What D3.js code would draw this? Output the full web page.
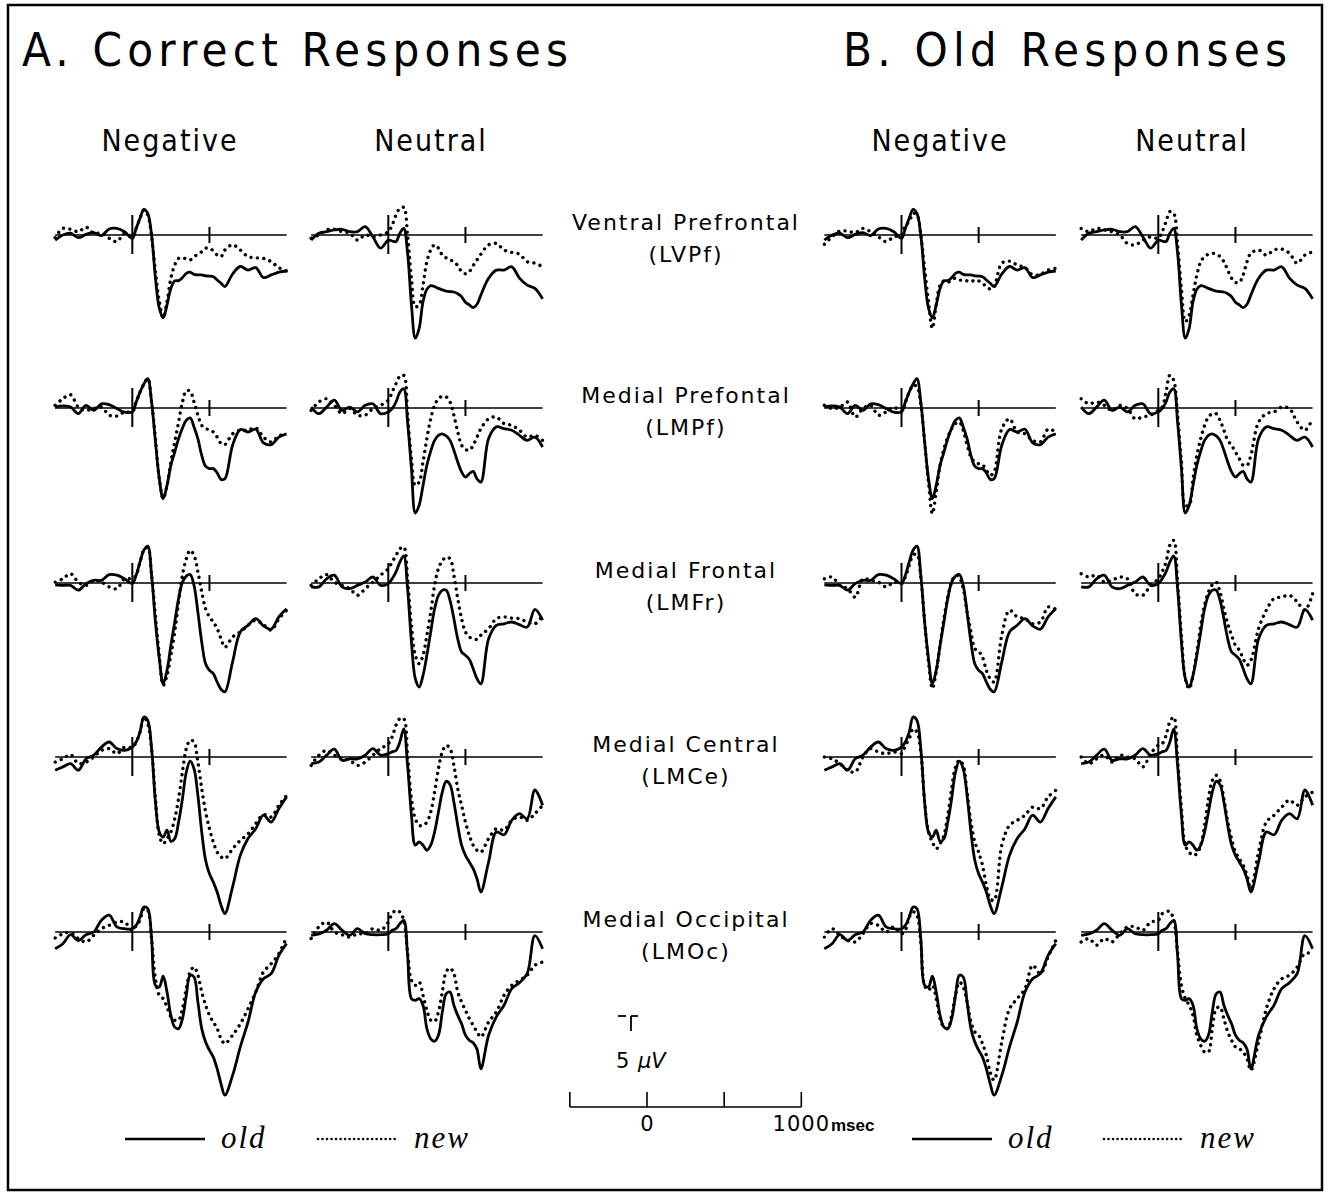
<!DOCTYPE html>
<html>
<head>
<meta charset="utf-8">
<script src="https://cdn.jsdelivr.net/npm/d3@7"></script>
<style>
  body { margin: 0; background: #fff; }
  svg { display: block; }
</style>
</head>
<body>
<svg id="chart" width="1331" height="1194"></svg>
<script>
// sample times (ms) shared by all waveforms
var times = [-500,-450,-400,-350,-300,-250,-200,-150,-100,-50,0,
  25,50,75,100,125,150,175,200,225,250,275,300,325,350,375,400,425,450,475,500,525,550,575,600,
  650,700,750,800,850,900,950,1000];

var sites = ["Ventral Prefrontal", "Medial Prefontal", "Medial Frontal", "Medial Central", "Medial Occipital"];
var siteCodes = ["(LVPf)", "(LMPf)", "(LMFr)", "(LMCe)", "(LMOc)"];
var panelTitles = ["A. Correct Responses", "B. Old Responses"];
var conditionLabels = ["Negative", "Neutral", "Negative", "Neutral"];
var scaleTicks = [-500, 0, 500, 1000];
var scaleLabels = ["0", "1000"];

// old items (hits) - same in A and B, one array per site, microvolts
var hitsNeg = [
  [-1.7,0,0.6,-0.9,0.2,0.8,-0.2,2,2.2,1.1,-1.1, 2.2,5.6,8.5,7.2,0,-14.4,-24.4,-27.6,-23.3,-17.8,-15.3,-15.2,-14.2,-12.8,-12.4,-13.1,-13.3,-13.3,-13.6,-13.7,-13.9,-15,-16.1,-17.2, -13,-10.5,-11.7,-10.9,-14.2,-13.3,-12.4,-12],
  [0.3,0.7,0.3,-1.9,0.9,-0.8,1.4,1.1,-0.2,-1.4,-1.3, 2,5.3,8,9.8,2,-11.3,-23.6,-30.2,-25.8,-19.1,-14.7,-10.2,-6.7,-4.1,-3.3,-6.3,-10.2,-15.8,-19.4,-20.2,-20.2,-21.6,-23.8,-23.6, -12.4,-7.2,-8,-7.1,-11.6,-12.2,-9.7,-8.6],
  [-0.6,-0.8,-0.8,-2.4,-0.2,0.9,0.9,2.8,2.6,1.4,-0.2, 2.6,7,10.9,12.3,2.6,-13,-25.2,-33.6,-29.1,-20.8,-13,-5.2,0.3,2.3,2.8,-0.8,-9.7,-19.7,-26.9,-29.1,-30.2,-33,-35.4,-36.3, -26.3,-16.3,-14.1,-11.9,-14.3,-15.4,-11.3,-8.6],
  [-4.4,-3.3,-2.2,-4.4,-0.6,0.6,3.3,5,2.8,2.2,3.3, 5,8.3,13.3,12.2,2.8,-15,-25,-26.7,-24.4,-28.1,-27.2,-21.7,-13.9,-5,-1.4,-3.9,-12.8,-25,-34.4,-38.9,-41.7,-45,-49.4,-52.2, -43.3,-32.8,-27.2,-23.9,-19.4,-21.7,-17.2,-13.3],
  [-5.6,-3.9,-0.9,-2.8,-0.9,0,3.9,5.6,1.7,1.1,1.1, 2.2,5,8.3,7.8,-2.2,-17.8,-18.3,-14.7,-20,-27.8,-31.7,-32.2,-28.9,-21.1,-14.4,-15,-23.3,-32.2,-36.7,-39.4,-41.7,-45.6,-50.6,-54.4, -47.8,-38.3,-30,-20,-15.6,-13.9,-7.8,-3.9]
];
var hitsNeu = [
  [-1.7,0.6,1.1,1.7,1.9,1.1,1.1,2.8,-0.6,-4.4,-1.7, -2,-2.2,0.6,2.2,-6,-23.3,-34.4,-31.1,-22.2,-18.1,-16.9,-17.2,-17.8,-18.3,-18.7,-18.9,-19,-19.6,-20.6,-22.4,-23.3,-24.2,-23.1,-20, -14.4,-11.7,-11.7,-10.6,-14.4,-16.7,-17.8,-21.3],
  [0.3,-1.9,0.3,2.6,-0.8,0.3,-1.3,0.9,1.4,-1.9,-1.3, -0.2,2,5.3,6.4,-4.7,-20.2,-35,-32.4,-25.8,-19.1,-14.4,-10.8,-9.1,-8.6,-9.3,-10.8,-14.1,-18,-21.3,-23,-21.9,-21.1,-23.6,-24.7, -10.2,-6.3,-6.9,-7.4,-9.1,-10.8,-9.7,-13],
  [-1.3,-1.3,1.4,2.6,-1.3,-1.9,-0.8,0.3,2,-0.8,-0.2, 1.4,3.7,7,9,-1.9,-19.7,-31.9,-34.7,-30.8,-24.1,-16.3,-8.6,-4.1,-2.4,-2.4,-5.8,-11.9,-18.6,-23,-24.1,-25.4,-28.6,-31.9,-33.6, -18.6,-14.1,-13.6,-13,-13.9,-14.7,-8.8,-12.4],
  [-2.2,-1.7,0.6,2.6,-1.1,-0.6,-0.6,0.6,2.8,0.6,1.1, 1.7,2.2,5,9.4,-2.8,-19.4,-29.4,-28.3,-29.4,-31.1,-29.4,-25,-18.3,-11.7,-8.1,-9.2,-15,-22.8,-29.4,-32.8,-35,-37.2,-40.6,-45, -35,-25,-25.9,-21.1,-18.9,-20.6,-11,-16.1],
  [-1.1,-0.6,0.6,2.8,0.6,-1.1,1.1,-0.6,-0.9,-0.9,-0.6, 0.6,1.1,2.8,3.9,-7.8,-22.2,-22.8,-22.2,-24.4,-32.2,-35.6,-36.4,-34.4,-26.7,-20.6,-20,-24.4,-27.8,-30.6,-34.4,-36.1,-36.9,-39.1,-45.6, -34.4,-28.3,-24.4,-18.9,-16.9,-13.9,-1.2,-5.6]
];
// new items, correct responses (panel A)
var crNeg = [
  [-0.9,2.2,1.9,1.1,2.6,0.6,0.6,-1.1,-2.2,0.6,-0.6, 2.2,5.6,8.3,6.7,-0.6,-12.2,-22.2,-27.6,-22.2,-14.4,-10,-7.8,-7.6,-8,-8.3,-7.2,-6.4,-5.6,-4.4,-4.4,-5.3,-6.7,-7.2,-5, -3.3,-5,-7.2,-7.6,-7.8,-8.9,-10.9,-12],
  [0.9,3.1,4.4,0.3,-0.8,-0.2,0.3,-2.4,-2.7,-1.3,-1.3, 2,5.3,8,9.8,2,-10.2,-23.6,-30.2,-25.8,-18,-11.3,-4.7,2,5.8,5.6,2,-2.4,-5.8,-6.9,-7.2,-8,-9.7,-11.8,-12.2, -8.6,-7.4,-7.4,-6.6,-9.7,-11.3,-9.3,-8.6],
  [0.3,1.4,3.1,0.3,-0.8,0.9,0.3,-1.3,-1.9,1.4,1.4, 2.6,7,11,11.8,2.6,-10.8,-24.1,-34.1,-30.8,-24.1,-16.3,-6.3,2.6,8.1,10.9,9.2,3.7,-3,-8.6,-11.3,-13,-15.2,-18.6,-21.4, -18,-16.3,-14.1,-12.4,-13.9,-15.7,-11.9,-9.1],
  [-1.7,-0.6,0.8,-2.2,-1.7,0,2.2,2.8,1.1,3.3,3.3, 5,8.3,13.3,11.1,2.8,-13.9,-26.1,-28.9,-27.2,-25,-20.6,-13.9,-5,2.8,5.6,5,-1.7,-10.6,-18.3,-23.9,-28.3,-31.7,-33.3,-33.9, -30.6,-27.8,-25.6,-22.2,-19.2,-20,-16.1,-12.8],
  [-2,-0.6,-0.2,-2.2,-3.3,-1.1,1.1,2.2,3.3,3.3,0.6, 2.2,3.9,7.8,7.2,-2.2,-15.6,-21.1,-22.2,-25,-28.3,-29.4,-29.4,-25.6,-18.9,-13.3,-11.7,-14.4,-20,-24.4,-27.8,-30,-32.2,-35.6,-37.2, -34.4,-30.6,-25.6,-20,-13.3,-10.6,-7.2,-1.7]
];
var crNeu = [
  [-1.1,0,1.7,1.9,1.1,0.6,-1.7,0,-0.6,0,1.1, 3.3,6.7,8.9,9.2,0,-14.4,-23.9,-23.3,-16.7,-8.9,-5,-3.3,-4.4,-6.7,-7.6,-8.3,-8.9,-10.2,-12.2,-12.9,-12.2,-10.2,-8.3,-6.4, -3.3,-2.8,-5,-5.8,-6.4,-8.9,-9.4,-10.6],
  [-0.8,2,3.1,0.9,-1.9,-0.2,-2.4,-2.4,-0.2,0.9,2.6, 5.3,8.1,10.6,10.9,-2.4,-16.9,-25.8,-24.7,-18,-10.2,-3.6,0.9,3.1,3.9,3.7,2,-2.4,-8,-12.4,-13.8,-14.1,-12.4,-9.7,-6.9, -3.6,-3,-5.2,-5.8,-7.4,-9.7,-9.1,-10.8],
  [-0.8,1.4,2.8,0.3,-0.8,-1.9,-4.1,-1.9,0.3,2.6,4.8, 7,9.2,11.4,12,1.4,-14.1,-24.1,-26.9,-24.1,-17.4,-9.7,-0.8,4.8,7.4,8.6,8.1,2.6,-5.2,-11.9,-16.3,-18,-18.6,-18.8,-17.4, -15.2,-11.9,-11.3,-11.7,-11.9,-13,-13.6,-10.8],
  [-2.8,0.6,2.2,0.6,-0.6,-1.1,-2.8,-1.7,0.6,2.8,4.4, 6.7,10.6,12.8,12.8,0.6,-13.9,-20.6,-22.8,-22.8,-21.7,-18.3,-11.7,-3.9,1.7,3.9,2.8,-2.8,-10.6,-16.1,-21.7,-26.1,-29.4,-31.1,-31.7, -27.2,-23.9,-24.4,-21.1,-20,-21.1,-18.9,-16.1],
  [-2.2,1.7,3.3,0,-0.9,-1.7,-0.6,-0.6,1.1,0.6,3.3, 6.1,7.2,6.7,3.9,-6.7,-16.1,-17.8,-16.7,-21.1,-26.1,-29.4,-29.8,-26.7,-20,-13.3,-12,-13.9,-20,-23.3,-26.1,-28.9,-31.1,-33.3,-35, -30,-26.7,-21.1,-17.8,-16.1,-14.4,-11.1,-10]
];
// new items called old (panel B)
var faNeg = [
  [-3.1,-0.6,1.3,1.3,0.8,2.2,1.1,-0.6,-2.2,-0.6,0, 3.3,4.4,7.2,6.7,0,-11.1,-22.2,-31.1,-23.3,-16.7,-15.3,-15.8,-15,-14.4,-15,-15,-15.3,-15.6,-15,-15.3,-16.1,-17.2,-18,-17.2, -9.4,-8.7,-10,-10.9,-13.3,-13.1,-11.7,-11.1],
  [0.9,-0.2,0.3,2,-3,-0.2,0.9,-2.4,-1.3,0.3,-1.3, 2,5.3,7.6,7.1,1.4,-11.3,-24.7,-35.2,-28,-19.1,-13.6,-9.7,-6.9,-5.2,-4.7,-7.4,-12.4,-16.3,-18,-18.6,-18.9,-20.8,-22.4,-21.3, -6.9,-3.6,-8,-8.6,-10.8,-11.3,-7.1,-8],
  [1.4,2,-0.8,-1.9,-4.7,1.4,0.9,0.3,-1.3,0.3,-0.2, 2,5.9,9.2,9.6,2,-13,-26.3,-35.2,-29.7,-20.8,-11.9,-4.7,0.3,2.6,2,-1.9,-9.7,-16.3,-21.9,-22.8,-24.7,-29.2,-31.9,-33, -17.4,-9.1,-11.3,-11.9,-13.6,-13,-8,-8.8],
  [0,-0.6,-2.2,-4.4,-5,0,2.8,1.7,1.1,1.7,1.1, 3.9,6.1,9.4,8.3,1.7,-15,-25,-28.3,-30.6,-28.9,-26.1,-19.4,-10.6,-3.3,-1.1,-2.8,-11.7,-21.7,-28.3,-31.7,-36.1,-42.8,-47.2,-47.8, -29.4,-22.8,-21.1,-19.4,-16.7,-17.2,-13.3,-11.1],
  [-1.7,1.1,-1.1,-2.8,-3.3,-0.6,2.8,2.2,0,1.7,-0.6, 0.6,5,6.7,5.6,-3.3,-17.8,-19.4,-17.8,-22.2,-28.9,-31.7,-32.2,-27.8,-21.1,-16.7,-18.3,-23.3,-30,-33.3,-34.4,-37.2,-41.1,-46.7,-49.4, -36.7,-25.6,-22.2,-18.9,-11.1,-13.9,-8.3,-2.8]
];
var faNeu = [
  [2.2,1.1,2.2,1.7,1.1,0,-2.8,-3.3,-1.7,-0.6,-1.1, 1.1,4.4,7.8,7.2,-3.3,-17.8,-28.9,-26.7,-20,-13.3,-8.9,-7.2,-6.4,-6.1,-6.4,-7.2,-8.9,-11.7,-14.4,-15.8,-15.8,-13.3,-8.9,-6.1, -5,-6.7,-5,-4.7,-6.1,-9.4,-6.7,-5.6],
  [3.1,1.4,2,0.9,-0.8,0.9,-0.2,-3.6,-3,-2.4,-0.8, 0.3,5.3,10.9,9.2,-2.4,-18,-32.4,-32.4,-23.6,-15.8,-10.2,-5.8,-3,-1.9,-1.9,-4.1,-7.4,-10.8,-12.4,-14.7,-16.9,-19.1,-19.1,-15.8, -4.7,-1.9,-1.3,0.3,-0.2,-4.7,-7.4,-3.6],
  [3.1,2,2.6,0.3,0.9,2,1.4,-3.6,-4.1,-0.8,1.4, 3.7,7,12.6,14.2,0.3,-17.4,-31.9,-35.2,-30.8,-23,-14.1,-7.4,-3,-0.6,0.3,-3,-8.6,-13.6,-17.4,-20.8,-22.4,-25.2,-27.4,-25.8, -15.2,-9.1,-5.2,-4.7,-4.1,-6.3,-9.1,-3.6],
  [0,-2.2,-0.6,0.6,-1.7,0.6,0,-0.6,-3.3,1.1,3.9, 4.4,7.2,11.7,13.3,-0.6,-17.2,-29.4,-31.7,-32.8,-32.2,-29.4,-22.8,-13.9,-7.8,-6.1,-7.8,-13.9,-21.7,-27.2,-31.7,-33.9,-36.1,-39.4,-43.9, -31.7,-21.7,-19.4,-16.7,-14.4,-16.1,-13.3,-11.7],
  [-3.3,-2.2,-4.4,-2.2,-3.3,-0.6,1.7,1.7,0.6,3.3,3.9, 6.1,6.7,6.9,3.9,-6.7,-17.8,-22.2,-24.4,-27.8,-34.4,-37.8,-40,-40,-32.2,-25.6,-25,-28.9,-33.3,-36.1,-38.3,-38.9,-40,-42.2,-46.1, -36.7,-25.6,-18.9,-15.6,-14.4,-11.7,-7.2,-7.2]
];

// column layout: which series go in which column
var columns = [
  {old: hitsNeg, nw: crNeg},
  {old: hitsNeu, nw: crNeu},
  {old: hitsNeg, nw: faNeg},
  {old: hitsNeu, nw: faNeu}
];

var onsetX = [132.3, 388.3, 901.5, 1158.3];
var rowY = [235, 408, 583, 757, 932];
var pxPerMs = 0.1543;
var pxPerUv = 3;

var svg = d3.select("#chart");
var font = "'DejaVu Sans', sans-serif";
var thinFont = "'DejaVu Sans Condensed', 'DejaVu Sans', sans-serif";

// outer frame
svg.append("rect")
  .attr("x", 8).attr("y", 5)
  .attr("width", 1314).attr("height", 1185)
  .attr("fill", "none").attr("stroke", "#000").attr("stroke-width", 2.5);

// big titles
svg.append("text").attr("x", 22).attr("y", 66)
  .attr("textLength", 546).attr("lengthAdjust", "spacing")
  .style("font-family", thinFont).style("font-size", "47px").style("font-weight", "200")
  .text(panelTitles[0]);
svg.append("text").attr("x", 843).attr("y", 66)
  .attr("textLength", 444).attr("lengthAdjust", "spacing")
  .style("font-family", thinFont).style("font-size", "47px").style("font-weight", "200")
  .text(panelTitles[1]);

// condition headers
var headerX = [170, 431, 940, 1192];
svg.selectAll(".hdr").data(conditionLabels).enter().append("text")
  .attr("class", "hdr")
  .attr("x", function(d, i) { return headerX[i]; })
  .attr("y", 151)
  .attr("text-anchor", "middle")
  .style("font-family", thinFont).style("font-size", "30px").style("font-weight", "200")
  .style("letter-spacing", "2px")
  .text(function(d) { return d; });

// site labels
sites.forEach(function(s, i) {
  svg.append("text").attr("x", 686).attr("y", rowY[i] - 5)
    .attr("text-anchor", "middle")
    .style("font-family", font).style("font-size", "22px")
    .style("letter-spacing", "2px")
    .text(s);
  svg.append("text").attr("x", 686).attr("y", rowY[i] + 27)
    .attr("text-anchor", "middle")
    .style("font-family", font).style("font-size", "22px")
    .style("letter-spacing", "2px")
    .text(siteCodes[i]);
});

// waveform panels
columns.forEach(function(col, c) {
  var x = d3.scaleLinear().domain([0, 1000])
    .range([onsetX[c], onsetX[c] + 1000 * pxPerMs]);
  rowY.forEach(function(ry, r) {
    var y = d3.scaleLinear().domain([0, 10]).range([ry, ry - 10 * pxPerUv]);
    var g = svg.append("g");

    // baseline
    g.append("line")
      .attr("x1", x(-500)).attr("x2", x(1000))
      .attr("y1", y(0)).attr("y2", y(0))
      .attr("stroke", "#000").attr("stroke-width", 1.3);
    // onset tick
    g.append("line")
      .attr("x1", x(0)).attr("x2", x(0))
      .attr("y1", y(0) - 20).attr("y2", y(0) + 19)
      .attr("stroke", "#000").attr("stroke-width", 2);
    // 500 ms tick
    g.append("line")
      .attr("x1", x(500)).attr("x2", x(500))
      .attr("y1", y(0) - 8).attr("y2", y(0) + 8)
      .attr("stroke", "#000").attr("stroke-width", 2);

    var line = d3.line()
      .x(function(d, i) { return x(times[i]); })
      .y(function(d) { return y(d); })
      .curve(d3.curveCatmullRom.alpha(0.5));

    g.append("path")
      .attr("d", line(col.nw[r]))
      .attr("fill", "none").attr("stroke", "#000")
      .attr("stroke-width", 3.4)
      .attr("stroke-linecap", "round")
      .attr("stroke-dasharray", "0.01 6.4");
    g.append("path")
      .attr("d", line(col.old[r]))
      .attr("fill", "none").attr("stroke", "#000")
      .attr("stroke-width", 2.8)
      .attr("stroke-linejoin", "round");
  });
});

// time scale bar
var sx = d3.scaleLinear().domain([0, 1000]).range([647, 647 + 1000 * pxPerMs]);
var barY = 1107;
var sb = svg.append("g");
sb.append("line").attr("x1", sx(-500)).attr("x2", sx(1000))
  .attr("y1", barY).attr("y2", barY)
  .attr("stroke", "#000").attr("stroke-width", 1.6);
sb.selectAll(".stick").data(scaleTicks).enter().append("line")
  .attr("x1", function(d) { return sx(d); }).attr("x2", function(d) { return sx(d); })
  .attr("y1", barY - 15).attr("y2", barY)
  .attr("stroke", "#000").attr("stroke-width", 1.6);
sb.append("text").attr("x", sx(0)).attr("y", 1131).attr("text-anchor", "middle")
  .style("font-family", font).style("font-size", "21px").text(scaleLabels[0]);
sb.append("text").attr("x", sx(1000)).attr("y", 1131).attr("text-anchor", "middle")
  .style("font-family", font).style("font-size", "21px").style("letter-spacing", "1px").text(scaleLabels[1]);
sb.append("text").attr("x", 831).attr("y", 1131)
  .style("font-family", "'Liberation Sans', Arial, sans-serif").style("font-size", "17px")
  .style("font-weight", "bold").text("msec");

// voltage scale bar (5 uV)
var vy = d3.scaleLinear().domain([0, 5]).range([1031, 1031 - 5 * pxPerUv]);
sb.append("line").attr("x1", 631).attr("x2", 631).attr("y1", vy(0)).attr("y2", vy(5))
  .attr("stroke", "#000").attr("stroke-width", 1.8);
sb.append("line").attr("x1", 631).attr("x2", 638).attr("y1", vy(5)).attr("y2", vy(5))
  .attr("stroke", "#000").attr("stroke-width", 1.8);
sb.append("line").attr("x1", 618).attr("x2", 626).attr("y1", vy(5)).attr("y2", vy(5))
  .attr("stroke", "#000").attr("stroke-width", 1.8);
sb.append("text").attr("x", 616).attr("y", 1068)
  .style("font-family", font).style("font-size", "21px").text("5");
sb.append("text").attr("x", 638).attr("y", 1068)
  .style("font-family", font).style("font-size", "21px").style("font-style", "italic").text("\u03bcV");

// legends
var legends = [
  {x: 125, label: "old", dotted: false},
  {x: 318, label: "new", dotted: true},
  {x: 912, label: "old", dotted: false},
  {x: 1104, label: "new", dotted: true}
];
legends.forEach(function(l) {
  svg.append("line").attr("x1", l.x).attr("x2", l.x + 80)
    .attr("y1", 1139).attr("y2", 1139)
    .attr("stroke", "#000")
    .attr("stroke-width", l.dotted ? 2.6 : 2.4)
    .attr("stroke-linecap", l.dotted ? "round" : "butt")
    .attr("stroke-dasharray", l.dotted ? "0.01 4.5" : null);
  svg.append("text").attr("x", l.x + 96).attr("y", 1148)
    .style("font-family", "'Liberation Serif', 'Times New Roman', serif")
    .style("font-size", "31px").style("font-style", "italic")
    .style("letter-spacing", "2px")
    .text(l.label);
});
</script>
</body>
</html>
